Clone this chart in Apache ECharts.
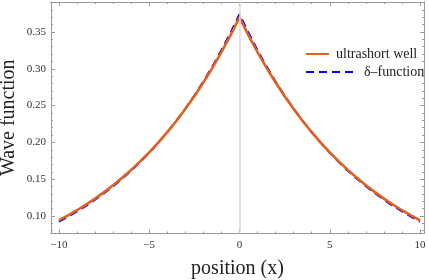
<!DOCTYPE html>
<html>
<head>
<meta charset="utf-8">
<script src="https://cdn.jsdelivr.net/npm/echarts@6/dist/echarts.min.js"></script>
<style>
  html, body { margin: 0; padding: 0; background: #fff; }
  #main { width: 428px; height: 280px; }
</style>
</head>
<body>
<div id="main"></div>
<script>
// positions (x) sampled along the curves
const positions = [-10, -9.5, -9, -8.5, -8, -7.5, -7, -6.5, -6, -5.5, -5, -4.5, -4, -3.5, -3, -2.5, -2, -1.5, -1, -0.5,
  0, 0.5, 1, 1.5, 2, 2.5, 3, 3.5, 4, 4.5, 5, 5.5, 6, 6.5, 7, 7.5, 8, 8.5, 9, 9.5, 10];

const ultrashortWell = [0.0940, 0.1007, 0.1078, 0.1155, 0.1236, 0.1324, 0.1418, 0.1519, 0.1626, 0.1742, 0.1865,
  0.1998, 0.2139, 0.2291, 0.2453, 0.2628, 0.2814, 0.3013, 0.3227, 0.3455,
  0.3700, 0.3455, 0.3227, 0.3013, 0.2814, 0.2628, 0.2453, 0.2291, 0.2139, 0.1998,
  0.1865, 0.1742, 0.1626, 0.1519, 0.1418, 0.1324, 0.1236, 0.1155, 0.1078, 0.1007, 0.0940];

const deltaFunction = [0.0923, 0.0990, 0.1061, 0.1138, 0.1221, 0.1309, 0.1404, 0.1506, 0.1615, 0.1733, 0.1858,
  0.1993, 0.2137, 0.2293, 0.2459, 0.2637, 0.2828, 0.3033, 0.3253, 0.3489,
  0.3742, 0.3489, 0.3253, 0.3033, 0.2828, 0.2637, 0.2459, 0.2293, 0.2137, 0.1993,
  0.1858, 0.1733, 0.1615, 0.1506, 0.1404, 0.1309, 0.1221, 0.1138, 0.1061, 0.0990, 0.0923];

const xMajor = [-10, -5, 0, 5, 10];
const xMinor = [-9, -8, -7, -6, -4, -3, -2, -1, 1, 2, 3, 4, 6, 7, 8, 9];
const yMajor = [0.10, 0.15, 0.20, 0.25, 0.30, 0.35];
const yMinor = [0.08, 0.09, 0.11, 0.12, 0.13, 0.14, 0.16, 0.17, 0.18, 0.19, 0.21, 0.22, 0.23, 0.24,
  0.26, 0.27, 0.28, 0.29, 0.31, 0.32, 0.33, 0.34, 0.36, 0.37, 0.38, 0.39];

const frameColor = "#9a9a9a";
const serif = "Liberation Serif";

function xAxisDef(position, ticks, len, withLabel) {
  return {
    type: "value",
    position: position,
    min: -10.44,
    max: 10.22,
    splitLine: { show: false },
    axisLine: { show: true, onZero: false, lineStyle: { color: frameColor, width: 1 } },
    axisTick: { show: true, inside: true, length: len, customValues: ticks, lineStyle: { color: frameColor } },
    axisLabel: withLabel ? {
      show: true, customValues: ticks, margin: 6, color: "#333", fontFamily: serif, fontSize: 11,
      formatter: (v) => String(v).replace("-", "\u2212"),
    } : { show: false },
  };
}

function yAxisDef(position, ticks, len, withLabel) {
  return {
    type: "value",
    position: position,
    min: 0.0762,
    max: 0.3908,
    splitLine: { show: false },
    axisLine: { show: true, onZero: false, lineStyle: { color: frameColor, width: 1 } },
    axisTick: { show: true, inside: true, length: len, customValues: ticks, lineStyle: { color: frameColor } },
    axisLabel: withLabel ? {
      show: true, customValues: ticks, margin: 5, color: "#333", fontFamily: serif, fontSize: 11,
      formatter: (v) => v.toFixed(2),
    } : { show: false },
  };
}

const xAxes = [
  xAxisDef("bottom", xMajor, 4, true),
  xAxisDef("bottom", xMinor, 2, false),
  xAxisDef("top", xMajor, 4, false),
  xAxisDef("top", xMinor, 2, false),
];
xAxes[0].name = "position (x)";
xAxes[0].nameLocation = "middle";
xAxes[0].nameGap = 25;
xAxes[0].nameTextStyle = { fontFamily: serif, fontSize: 20, color: "#222" };

const yAxes = [
  yAxisDef("left", yMajor, 4, true),
  yAxisDef("left", yMinor, 2, false),
  yAxisDef("right", yMajor, 4, false),
  yAxisDef("right", yMinor, 2, false),
];
yAxes[0].name = "Wave function";
yAxes[0].nameLocation = "middle";
yAxes[0].nameGap = 32;
yAxes[0].nameMoveOverlap = false;
yAxes[0].nameTextStyle = { fontFamily: serif, fontSize: 20, color: "#222" };

const legendItem = { color: "transparent", borderColor: "transparent", borderWidth: 0 };

const myChart = echarts.init(document.getElementById("main"));
const option = {
  animation: false,
  grid: { left: 51, right: 4, top: 2, bottom: 46.5, outerBoundsMode: "none", containLabel: false },
  xAxis: xAxes,
  yAxis: yAxes,
  legend: [
    {
      data: ["ultrashort well"],
      left: 305, top: 47, padding: 0,
      itemWidth: 23, itemHeight: 14,
      itemStyle: legendItem,
      textStyle: { fontFamily: serif, fontSize: 14, color: "#222", padding: [0, 0, 0, 2] },
    },
    {
      data: ["\u03b4\u2013function"],
      left: 305, top: 65, padding: 0,
      itemWidth: 50, itemHeight: 14,
      itemStyle: legendItem,
      textStyle: { fontFamily: serif, fontSize: 14, color: "#222", padding: [0, 0, 0, 3] },
    },
  ],
  series: [
    {
      name: "zero",
      type: "line",
      data: [],
      z: 0,
      markLine: {
        silent: true,
        symbol: "none",
        label: { show: false },
        lineStyle: { color: "#dadada", width: 1.5, type: "solid" },
        data: [{ xAxis: 0 }],
      },
    },
    {
      name: "\u03b4\u2013function",
      type: "line",
      z: 2,
      showSymbol: false,
      symbol: "none",
      color: "#0000ff",
      lineStyle: { color: "#0000ff", width: 2, type: [8, 5] },
      data: positions.map((x, i) => [x, deltaFunction[i]]),
    },
    {
      name: "ultrashort well",
      type: "line",
      z: 3,
      showSymbol: false,
      symbol: "none",
      color: "#e0601c",
      lineStyle: { color: "#e0601c", width: 2.6 },
      data: positions.map((x, i) => [x, ultrashortWell[i]]),
    },
  ],
};
myChart.setOption(option);
</script>
</body>
</html>
